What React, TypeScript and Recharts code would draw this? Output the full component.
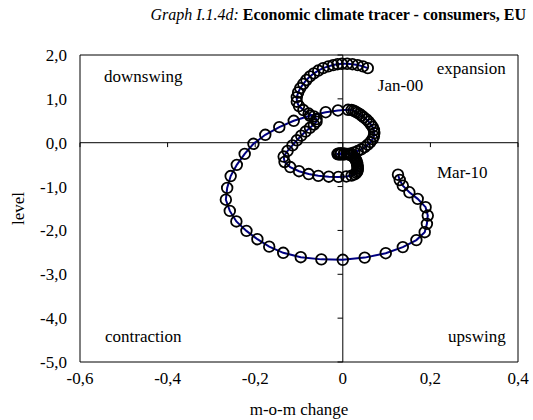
import React from "react";
import {
  ScatterChart,
  Scatter,
  XAxis,
  YAxis,
  ReferenceLine,
  ReferenceArea,
  ReferenceDot,
} from "recharts";

// monthly observations, Jan-00 .. Mar-10
const months = [
  "Jan-00", "Feb-00", "Mar-00", "Apr-00", "May-00", "Jun-00", "Jul-00", "Aug-00", "Sep-00", "Oct-00", "Nov-00", "Dec-00",
  "Jan-01", "Feb-01", "Mar-01", "Apr-01", "May-01", "Jun-01", "Jul-01", "Aug-01", "Sep-01", "Oct-01", "Nov-01", "Dec-01",
  "Jan-02", "Feb-02", "Mar-02", "Apr-02", "May-02", "Jun-02", "Jul-02", "Aug-02", "Sep-02", "Oct-02", "Nov-02", "Dec-02",
  "Jan-03", "Feb-03", "Mar-03", "Apr-03", "May-03", "Jun-03", "Jul-03", "Aug-03", "Sep-03", "Oct-03", "Nov-03", "Dec-03",
  "Jan-04", "Feb-04", "Mar-04", "Apr-04", "May-04", "Jun-04", "Jul-04", "Aug-04", "Sep-04", "Oct-04", "Nov-04", "Dec-04",
  "Jan-05", "Feb-05", "Mar-05", "Apr-05", "May-05", "Jun-05", "Jul-05", "Aug-05", "Sep-05", "Oct-05", "Nov-05", "Dec-05",
  "Jan-06", "Feb-06", "Mar-06", "Apr-06", "May-06", "Jun-06", "Jul-06", "Aug-06", "Sep-06", "Oct-06", "Nov-06", "Dec-06",
  "Jan-07", "Feb-07", "Mar-07", "Apr-07", "May-07", "Jun-07", "Jul-07", "Aug-07", "Sep-07", "Oct-07", "Nov-07", "Dec-07",
  "Jan-08", "Feb-08", "Mar-08", "Apr-08", "May-08", "Jun-08", "Jul-08", "Aug-08", "Sep-08", "Oct-08", "Nov-08", "Dec-08",
  "Jan-09", "Feb-09", "Mar-09", "Apr-09", "May-09", "Jun-09", "Jul-09", "Aug-09", "Sep-09", "Oct-09", "Nov-09", "Dec-09",
  "Jan-10", "Feb-10", "Mar-10",
];

// m-o-m change
const mom = [
  0.057, 0.046, 0.034, 0.022, 0.01, -0.002, -0.012, -0.022, -0.033, -0.045, -0.056, -0.066,
  -0.075, -0.083, -0.09, -0.097, -0.102, -0.105, -0.105, -0.1, -0.09, -0.078, -0.066, -0.06,
  -0.06, -0.066, -0.075, -0.085, -0.095, -0.105, -0.115, -0.126, -0.135, -0.133, -0.12, -0.1,
  -0.078, -0.056, -0.032, -0.01, 0.008, 0.02, 0.027, 0.031, 0.033, 0.034, 0.034, 0.034,
  0.033, 0.033, 0.032, 0.031, 0.03, 0.028, 0.025, 0.021, 0.016, 0.01, 0.003, -0.004,
  -0.009, -0.012, -0.011, -0.006, 0.002, 0.01, 0.018, 0.026, 0.034, 0.042, 0.05, 0.057,
  0.063, 0.068, 0.071, 0.072, 0.071, 0.068, 0.064, 0.059, 0.054, 0.048, 0.043, 0.038,
  0.033, 0.029, 0.025, 0.02, 0.012, -0.011, -0.039, -0.075, -0.112, -0.145, -0.177, -0.204,
  -0.224, -0.242, -0.256, -0.264, -0.267, -0.258, -0.243, -0.22, -0.195, -0.168, -0.136, -0.096,
  -0.049, 0.0, 0.05, 0.098, 0.137, 0.168, 0.187, 0.192, 0.194, 0.189, 0.171, 0.152,
  0.137, 0.13, 0.126,
];

// level
const level = [
  1.7, 1.74, 1.77, 1.79, 1.8, 1.8, 1.79, 1.77, 1.74, 1.7, 1.645, 1.58,
  1.51, 1.43, 1.34, 1.245, 1.145, 1.04, 0.935, 0.835, 0.745, 0.665, 0.6, 0.54,
  0.48, 0.415, 0.34, 0.255, 0.16, 0.055, -0.06, -0.185, -0.315, -0.44, -0.555, -0.65,
  -0.715, -0.755, -0.775, -0.78, -0.77, -0.75, -0.72, -0.69, -0.655, -0.62, -0.585, -0.55,
  -0.515, -0.48, -0.45, -0.42, -0.39, -0.36, -0.33, -0.3, -0.275, -0.255, -0.245, -0.24,
  -0.245, -0.255, -0.265, -0.27, -0.27, -0.26, -0.245, -0.22, -0.19, -0.15, -0.1, -0.045,
  0.015, 0.08, 0.15, 0.22, 0.29, 0.36, 0.42, 0.48, 0.53, 0.58, 0.62, 0.655,
  0.685, 0.71, 0.73, 0.745, 0.75, 0.735, 0.695, 0.615, 0.5, 0.355, 0.18, -0.025,
  -0.255, -0.505, -0.76, -1.03, -1.3, -1.555, -1.795, -2.01, -2.2, -2.37, -2.51, -2.61,
  -2.66, -2.67, -2.62, -2.52, -2.38, -2.22, -2.04, -1.85, -1.66, -1.47, -1.28, -1.13,
  -0.98, -0.85, -0.73,
];

const xTicks = [-0.6, -0.4, -0.2, 0, 0.2, 0.4];
const yTicks = [2, 1, 0, -1, -2, -3, -4, -5];

const textLabels = [
  { text: "downswing", x: -0.545, y: 1.5, anchor: "start" },
  { text: "expansion", x: 0.372, y: 1.7, anchor: "end" },
  { text: "Jan-00", x: 0.08, y: 1.3, anchor: "start" },
  { text: "Mar-10", x: 0.215, y: -0.68, anchor: "start" },
  { text: "contraction", x: -0.543, y: -4.42, anchor: "start" },
  { text: "upswing", x: 0.372, y: -4.42, anchor: "end" },
];

const data = months.map((m, i) => ({ month: m, x: mom[i], y: level[i] }));

const FONT = '"Liberation Serif", "Times New Roman", serif';
const txt = { fontFamily: FONT, fontSize: 17, fill: "#000" };

function fmtX(v: number) {
  return v === 0 ? "0" : v.toFixed(1).replace(".", ",");
}

function fmtY(v: number) {
  return v.toFixed(1).replace(".", ",");
}

function Ring(props: any) {
  const { cx, cy } = props;
  return <circle cx={cx} cy={cy} r={5.3} fill="none" stroke="#000" strokeWidth={1.8} />;
}

export default function App() {
  return (
    <div
      style={{
        position: "absolute",
        left: 0,
        top: 0,
        width: 533,
        height: 420,
        background: "#fff",
        fontFamily: FONT,
      }}
    >
      <div
        style={{
          position: "absolute",
          top: 6,
          right: 7,
          textAlign: "right",
          fontSize: 16,
          whiteSpace: "nowrap",
        }}
      >
        <i>Graph I.1.4d:</i> <b>Economic climate tracer - consumers, EU</b>
      </div>
      <ScatterChart
        width={533}
        height={420}
        margin={{ top: 55, right: 15, bottom: 0, left: 0 }}
        style={{ fontFamily: FONT }}
      >
        <XAxis
          type="number"
          dataKey="x"
          domain={[-0.6, 0.4]}
          ticks={xTicks}
          tickFormatter={fmtX}
          axisLine={false}
          tickLine={false}
          tickSize={0}
          tickMargin={10}
          height={58}
          tick={{ ...txt, style: { fontFamily: FONT } }}
          interval={0}
          label={(p: any) => (
            <text
              x={p.viewBox.x + p.viewBox.width / 2}
              y={p.viewBox.y + 47}
              textAnchor="middle"
              dominantBaseline="central"
              style={txt}
            >
              m-o-m change
            </text>
          )}
        />
        <YAxis
          type="number"
          dataKey="y"
          domain={[-5, 2]}
          ticks={yTicks}
          tickFormatter={fmtY}
          axisLine={false}
          tickLine={false}
          tickSize={0}
          tickMargin={13}
          width={80}
          tick={{ ...txt, style: { fontFamily: FONT } }}
          interval={0}
          label={(p: any) => {
            const cx = p.viewBox.x + 18;
            const cy = p.viewBox.y + p.viewBox.height / 2;
            return (
              <text
                x={cx}
                y={cy}
                transform={`rotate(-90 ${cx} ${cy})`}
                textAnchor="middle"
                dominantBaseline="central"
                style={txt}
              >
                level
              </text>
            );
          }}
        />
        <ReferenceArea
          x1={-0.6}
          x2={0.4}
          y1={-5}
          y2={2}
          fill="none"
          fillOpacity={0}
          stroke="#000"
          strokeWidth={1}
        />
        <ReferenceLine x={0} stroke="#000" strokeWidth={1} />
        <ReferenceLine y={0} stroke="#000" strokeWidth={1} />
        {yTicks.map((v) => (
          <ReferenceLine
            key={"yt" + v}
            segment={[
              { x: -0.012, y: v },
              { x: 0, y: v },
            ]}
            stroke="#000"
            strokeWidth={1}
          />
        ))}
        {xTicks.map((v) => (
          <ReferenceLine
            key={"xt" + v}
            segment={[
              { x: v, y: 0 },
              { x: v, y: -0.1 },
            ]}
            stroke="#000"
            strokeWidth={1}
          />
        ))}
        {textLabels.map((l) => (
          <ReferenceDot
            key={l.text}
            x={l.x}
            y={l.y}
            r={0}
            fill="none"
            stroke="none"
            label={(p: any) => (
              <text
                x={p.viewBox.x}
                y={p.viewBox.y}
                textAnchor={l.anchor as any}
                dominantBaseline="central"
                style={txt}
              >
                {l.text}
              </text>
            )}
          />
        ))}
        <Scatter
          data={data}
          line={{ stroke: "#000080", strokeWidth: 2 }}
          lineType="joint"
          shape={Ring}
          isAnimationActive={false}
        />
      </ScatterChart>
    </div>
  );
}
